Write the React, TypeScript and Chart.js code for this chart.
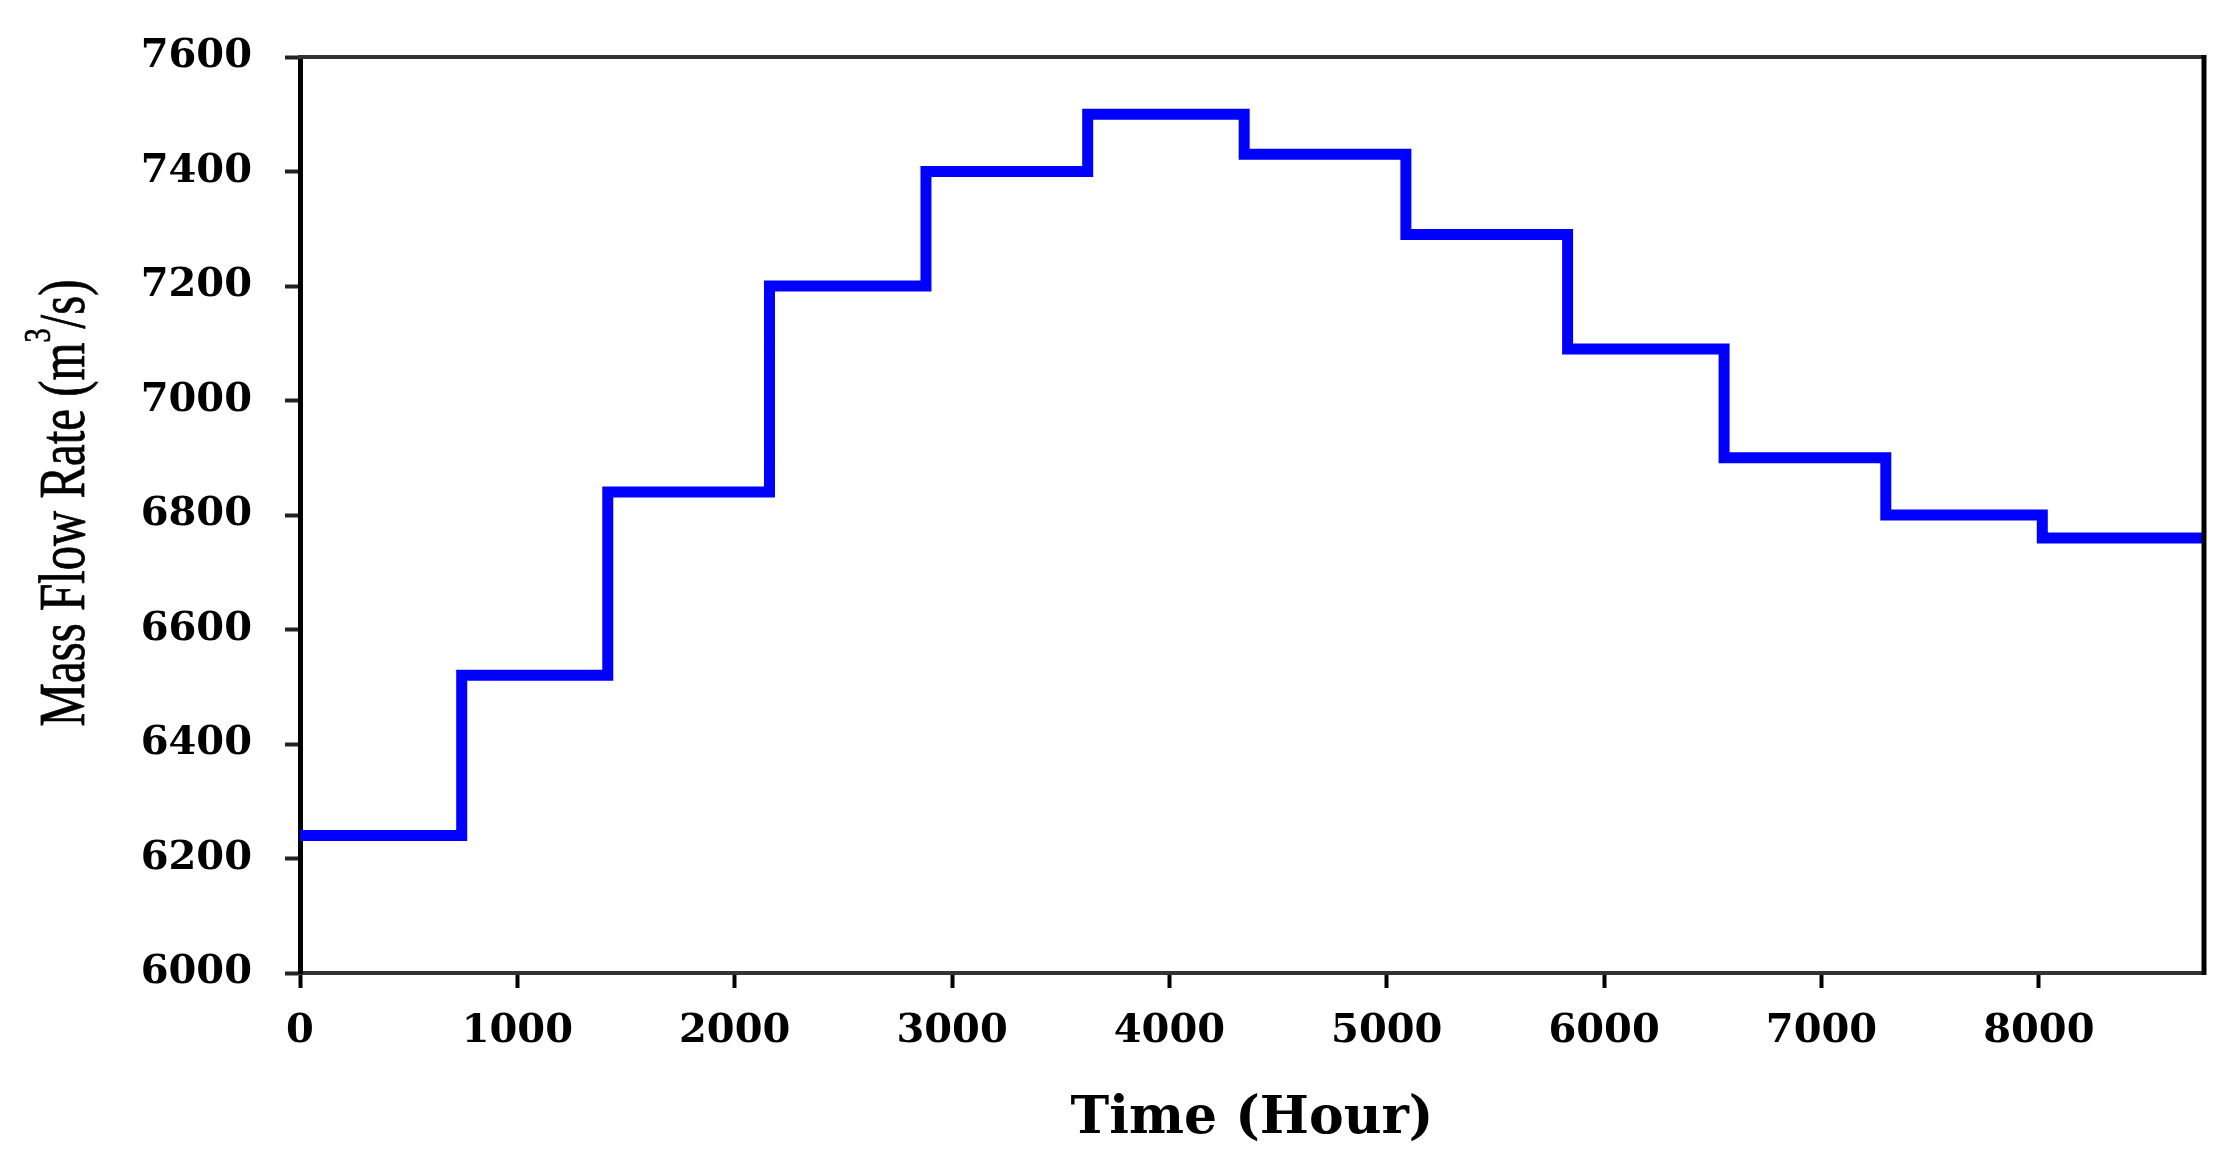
import React, { useEffect, useRef } from "react";
import { Chart, registerables } from "chart.js";

Chart.register(...registerables);

// Month boundaries (hours) and monthly mass flow rate values
const monthStartHours = [0, 744, 1416, 2160, 2880, 3624, 4344, 5088, 5832, 6552, 7296, 8016];
const yearEndHour = 8760;
const flowRates = [6240, 6520, 6840, 7200, 7400, 7500, 7430, 7290, 7090, 6900, 6800, 6760];

const xTickValues = [0, 1000, 2000, 3000, 4000, 5000, 6000, 7000, 8000];
const yTickValues = [6000, 6200, 6400, 6600, 6800, 7000, 7200, 7400, 7600];

const xTitle = "Time (Hour)";
const yTitleParts = ["Mass Flow Rate (m", "3", "/s)"];

const W = 2236;
const H = 1157;

const framePlugin = {
  id: "frame",
  afterDatasetsDraw(chart: any) {
    const { ctx, chartArea } = chart;
    ctx.save();
    ctx.lineCap = "butt";
    ctx.strokeStyle = "#333333";
    ctx.lineWidth = 4;
    ctx.beginPath();
    ctx.moveTo(chartArea.left - 2, chartArea.top);
    ctx.lineTo(chartArea.right + 2, chartArea.top);
    ctx.stroke();
    ctx.strokeStyle = "#000000";
    ctx.lineWidth = 5;
    ctx.beginPath();
    ctx.moveTo(chartArea.right, chartArea.top - 2);
    ctx.lineTo(chartArea.right, chartArea.bottom + 2);
    ctx.stroke();
    ctx.restore();
  },
};

const yTitlePlugin = {
  id: "yTitle",
  afterDraw(chart: any) {
    const { ctx, chartArea } = chart;
    const cy = (chartArea.top + chartArea.bottom) / 2 - 12;
    const baseX = 84;
    ctx.save();
    ctx.translate(baseX, cy);
    ctx.rotate(-Math.PI / 2);
    ctx.scale(0.74, 1);
    ctx.fillStyle = "#000000";
    ctx.strokeStyle = "#000000";
    ctx.lineWidth = 0.8;
    ctx.textBaseline = "alphabetic";
    ctx.textAlign = "left";
    const mainFont = '66px "Liberation Serif", "Times New Roman", serif';
    const supFont = '38px "Liberation Serif", "Times New Roman", serif';
    ctx.font = mainFont;
    const w0 = ctx.measureText(yTitleParts[0]).width;
    const w2 = ctx.measureText(yTitleParts[2]).width;
    ctx.font = supFont;
    const w1 = ctx.measureText(yTitleParts[1]).width;
    const total = w0 + w1 + w2;
    let x = -total / 2;
    ctx.font = mainFont;
    ctx.fillText(yTitleParts[0], x, 0);
    ctx.strokeText(yTitleParts[0], x, 0);
    x += w0;
    ctx.font = supFont;
    ctx.fillText(yTitleParts[1], x, -34);
    ctx.strokeText(yTitleParts[1], x, -34);
    x += w1;
    ctx.font = mainFont;
    ctx.fillText(yTitleParts[2], x, 0);
    ctx.strokeText(yTitleParts[2], x, 0);
    ctx.restore();
  },
};

export default function App() {
  const canvasRef = useRef<HTMLCanvasElement | null>(null);

  useEffect(() => {
    const canvas = canvasRef.current;
    if (!canvas) return;
    const points = monthStartHours.map((h, i) => ({ x: h, y: flowRates[i] }));
    points.push({ x: yearEndHour, y: flowRates[flowRates.length - 1] });

    const tickFont = { family: '"DejaVu Serif", serif', size: 40, weight: "bold" as const };

    const chart = new Chart(canvas, {
      type: "line",
      data: {
        datasets: [
          {
            data: points,
            borderColor: "#0000FF",
            backgroundColor: "#0000FF",
            borderWidth: 11,
            pointRadius: 0,
            stepped: true,
            fill: false,
            borderJoinStyle: "miter",
          },
        ],
      },
      options: {
        responsive: false,
        animation: false,
        devicePixelRatio: 1,
        layout: { padding: { top: 39, right: 32, left: 0, bottom: 0 } },
        plugins: {
          legend: { display: false },
          tooltip: { enabled: false },
        },
        scales: {
          x: {
            type: "linear",
            min: 0,
            max: yearEndHour,
            afterBuildTicks: (scale: any) => {
              scale.ticks = xTickValues.map((v) => ({ value: v }));
            },
            afterFit: (scale: any) => {
              scale.height = 184;
            },
            ticks: {
              color: "#000000",
              font: tickFont,
              padding: 20,
              maxRotation: 0,
              autoSkip: false,
              callback: (v: any) => String(v),
            },
            grid: {
              display: true,
              drawOnChartArea: false,
              drawTicks: true,
              tickLength: 15,
              tickColor: "#000000",
              tickWidth: 4,
            },
            border: { display: true, color: "#333333", width: 4 },
            title: {
              display: true,
              text: xTitle,
              color: "#000000",
              font: { family: '"DejaVu Serif", serif', size: 52, weight: "bold" },
              padding: { top: 0, bottom: 6 },
            },
          },
          y: {
            type: "linear",
            min: yTickValues[0],
            max: yTickValues[yTickValues.length - 1],
            afterBuildTicks: (scale: any) => {
              scale.ticks = yTickValues.map((v) => ({ value: v }));
            },
            afterFit: (scale: any) => {
              scale.width = 300;
            },
            ticks: {
              color: "#000000",
              font: tickFont,
              padding: 33,
              autoSkip: false,
              callback: (v: any) => String(v),
            },
            grid: {
              display: true,
              drawOnChartArea: false,
              drawTicks: true,
              tickLength: 15,
              tickColor: "#222222",
              tickWidth: 4,
            },
            border: { display: true, color: "#000000", width: 5 },
            title: { display: false },
          },
        },
      },
      plugins: [framePlugin, yTitlePlugin],
    });
    return () => chart.destroy();
  }, []);

  return (
    <div style={{ position: "fixed", left: 0, top: 0, width: W, height: H, background: "#ffffff" }}>
      <canvas ref={canvasRef} width={W} height={H} style={{ display: "block", width: W, height: H }} />
    </div>
  );
}
